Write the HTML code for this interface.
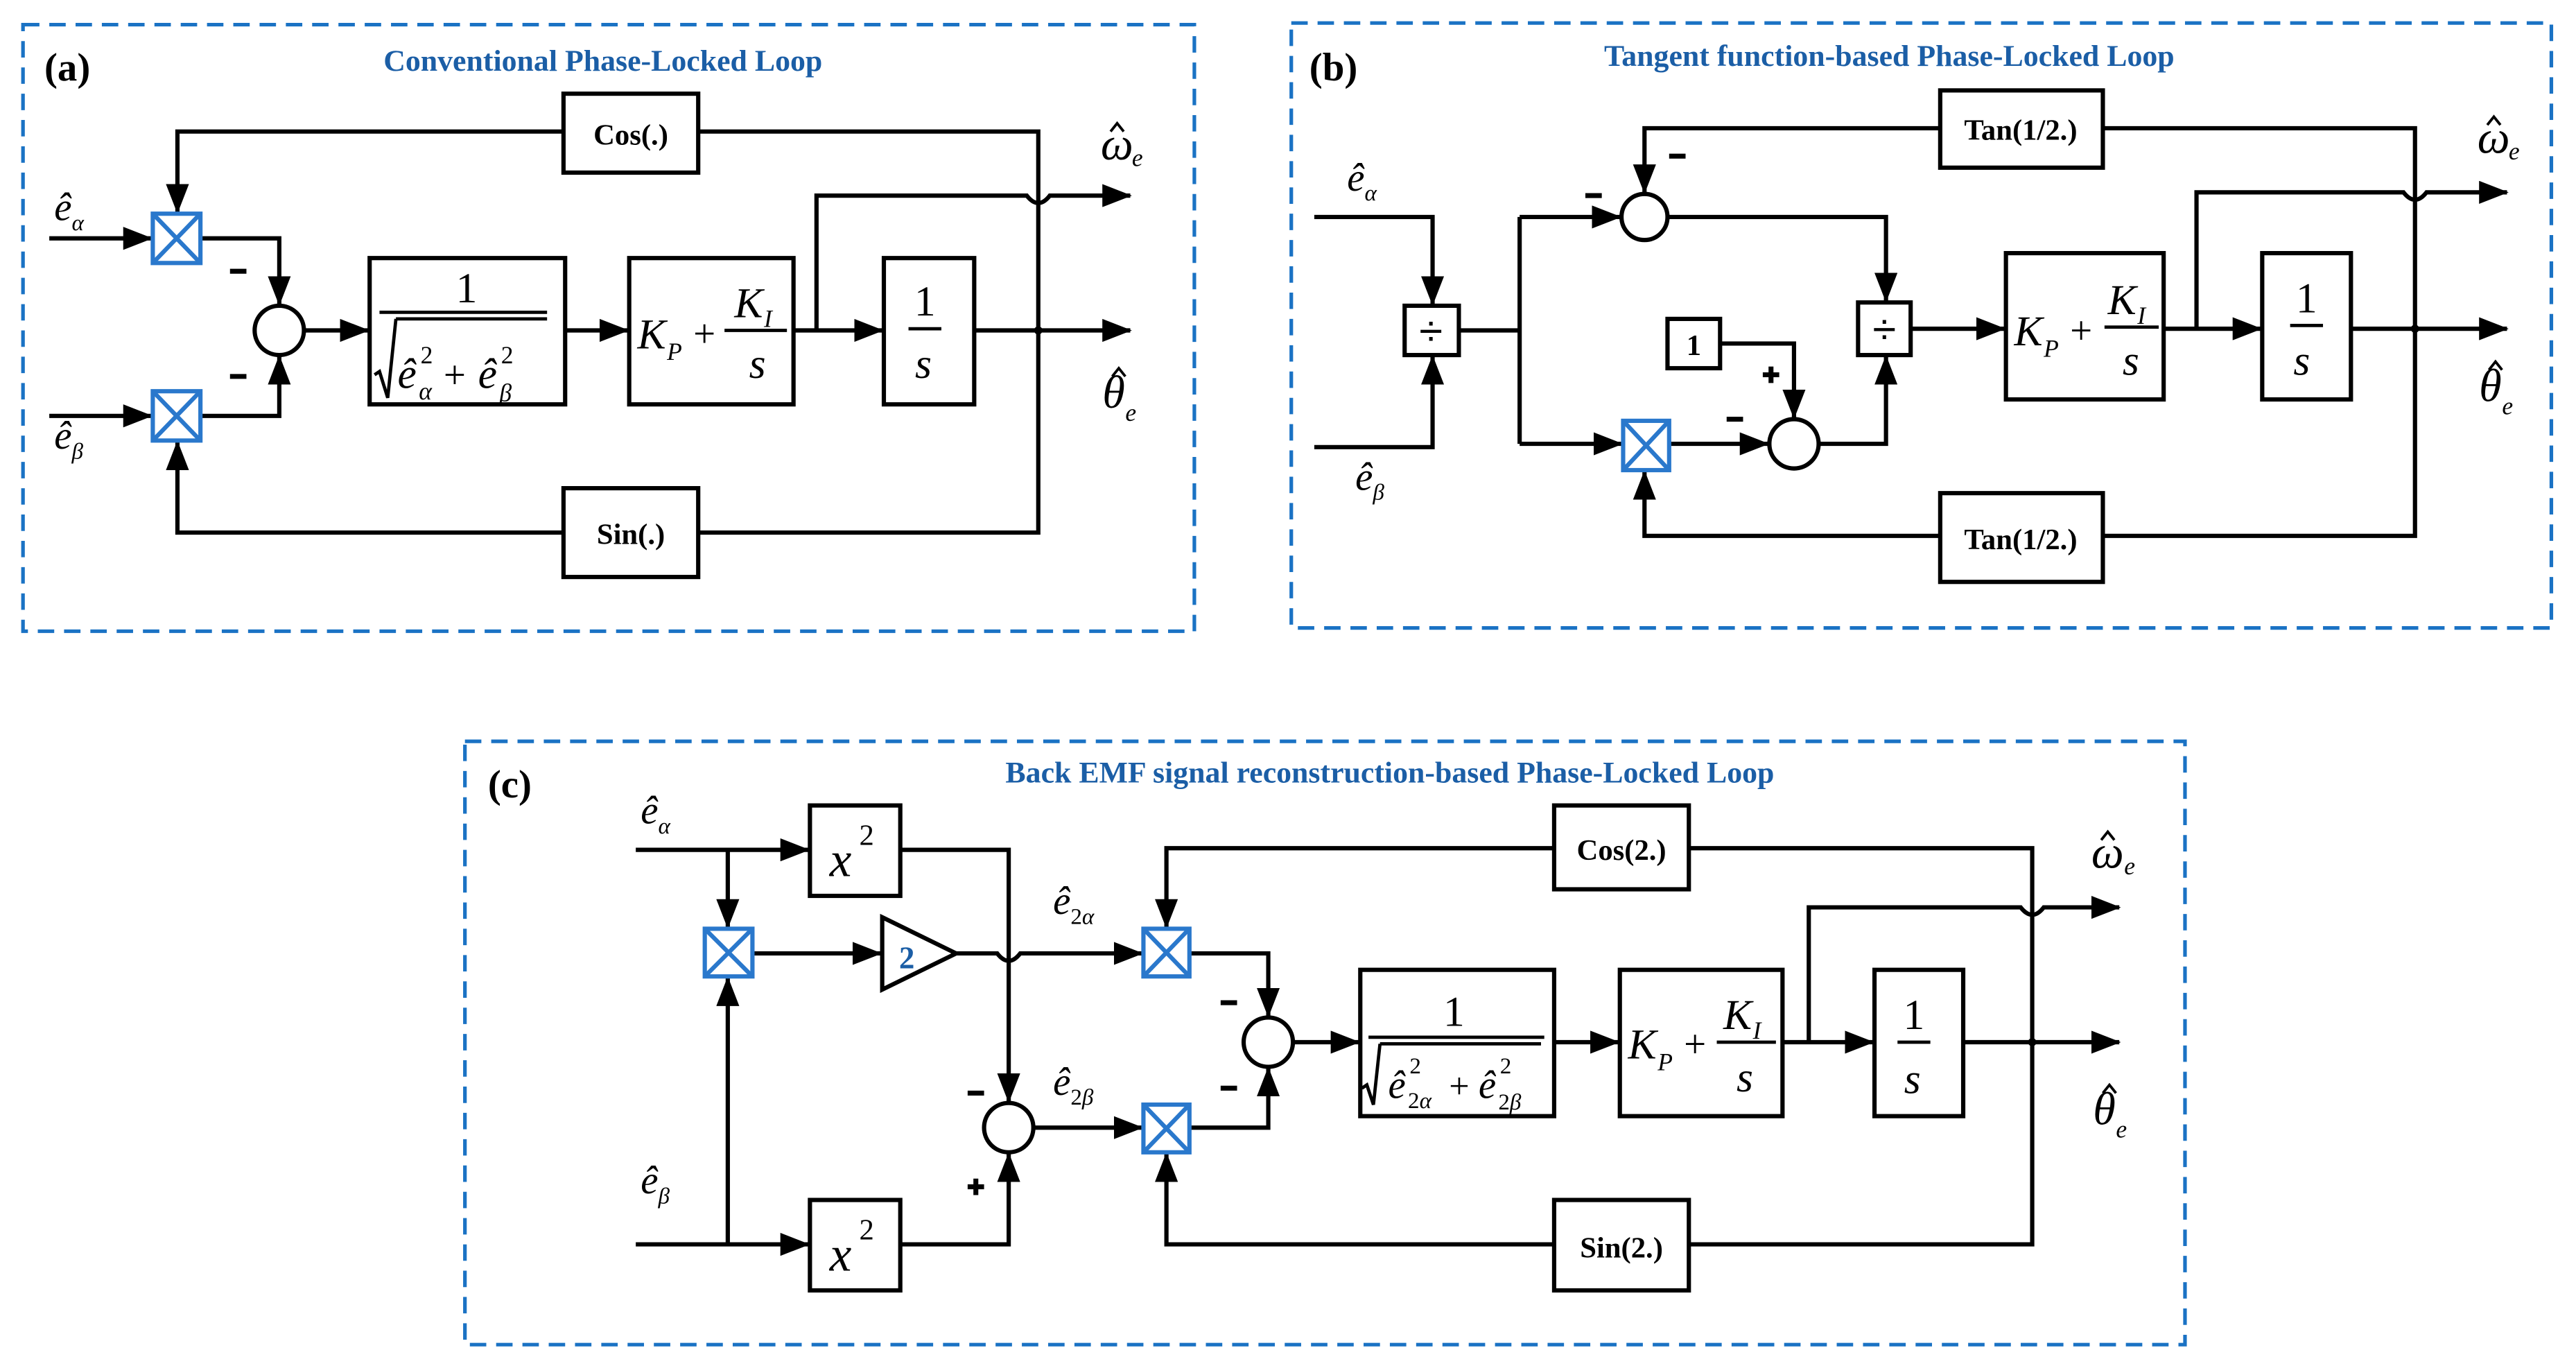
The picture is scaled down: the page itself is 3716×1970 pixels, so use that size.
<!DOCTYPE html>
<html><head><meta charset="utf-8"><style>
html,body{margin:0;padding:0;background:#fff;}
svg{display:block;}
.t{font-family:"Liberation Serif",serif;}
.bl{font-family:"Liberation Serif",serif;font-weight:bold;fill:#1b5ea6;font-size:18.5px;}
.lbl{font-family:"Liberation Serif",serif;font-weight:bold;font-size:18px;}
.m{font-family:"Liberation Serif",serif;font-style:italic;}
.pan{font-family:"Liberation Serif",serif;font-weight:bold;font-size:24px;}
</style></head><body>
<svg width="3716" height="1970" viewBox="0 0 1568 831" preserveAspectRatio="none" xmlns="http://www.w3.org/2000/svg">
<defs>
<marker id="a" markerUnits="userSpaceOnUse" markerWidth="18" markerHeight="14" refX="17" refY="7" orient="auto"><path d="M0,0 L18,7 L0,14 z" fill="#000"/></marker>
</defs>
<g fill="none" stroke="#1a72c4" stroke-width="2.2" stroke-dasharray="10,6">
<rect x="14" y="15" width="713" height="369"/>
<rect x="786" y="14" width="767" height="368"/>
<rect x="283" y="451" width="1047" height="367"/>
</g>
<text class="pan" x="27" y="49">(a)</text>
<text class="pan" x="797" y="49">(b)</text>
<text class="pan" x="297" y="485">(c)</text>
<text class="bl" x="367" y="43" text-anchor="middle">Conventional Phase-Locked Loop</text>
<text class="bl" x="1150" y="40" text-anchor="middle">Tangent function-based Phase-Locked Loop</text>
<text class="bl" x="846" y="476" text-anchor="middle">Back EMF signal reconstruction-based Phase-Locked Loop</text>

<g stroke="#000" stroke-width="2.6" fill="none">
<!-- panel a -->
<rect x="343" y="57" width="82" height="48"/>
<rect x="343" y="297" width="82" height="54"/>
<rect x="225" y="157" width="119" height="89"/>
<rect x="383" y="157" width="100" height="89"/>
<rect x="538" y="157" width="55" height="89"/>
<circle cx="170" cy="201" r="15"/>
<path d="M343,80 H108 V129" marker-end="url(#a)"/>
<path d="M425,80 H632 V324 H425"/>
<path d="M343,324 H108 V269" marker-end="url(#a)"/>
<path d="M30,145 H92" marker-end="url(#a)"/>
<path d="M30,253 H92" marker-end="url(#a)"/>
<path d="M123,145 H170 V185" marker-end="url(#a)"/>
<path d="M123,253 H170 V217" marker-end="url(#a)"/>
<path d="M185,201 H224" marker-end="url(#a)"/>
<path d="M344,201 H382" marker-end="url(#a)"/>
<path d="M483,201 H537" marker-end="url(#a)"/>
<path d="M497,201 V119 H625 Q632,128 639,119 H688" marker-end="url(#a)"/>
<path d="M593,201 H688" marker-end="url(#a)"/>
<!-- panel b -->
<rect x="1181" y="55" width="99" height="47"/>
<rect x="1181" y="300" width="99" height="54"/>
<rect x="855" y="186" width="33" height="30"/>
<rect x="1131" y="184" width="32" height="32"/>
<rect x="1015" y="194" width="32" height="30"/>
<rect x="1221" y="154" width="96" height="89"/>
<rect x="1377" y="154" width="54" height="89"/>
<circle cx="1001" cy="132" r="14"/>
<circle cx="1092" cy="270" r="15"/>
<path d="M800,132 H872 V185" marker-end="url(#a)"/>
<path d="M800,272 H872 V217" marker-end="url(#a)"/>
<path d="M888,201 H925 M925,132 V270"/>
<path d="M925,132 H986" marker-end="url(#a)"/>
<path d="M925,270 H987" marker-end="url(#a)"/>
<path d="M1181,78 H1001 V117" marker-end="url(#a)"/>
<path d="M1280,78 H1470 V326 H1280"/>
<path d="M1181,326 H1001 V287" marker-end="url(#a)"/>
<path d="M1015,132 H1148 V183" marker-end="url(#a)"/>
<path d="M1017,270 H1076" marker-end="url(#a)"/>
<path d="M1047,209 H1092 V254" marker-end="url(#a)"/>
<path d="M1107,270 H1148 V217" marker-end="url(#a)"/>
<path d="M1163,200 H1220" marker-end="url(#a)"/>
<path d="M1317,200 H1376" marker-end="url(#a)"/>
<path d="M1337,200 V117 H1463 Q1470,126 1477,117 H1526" marker-end="url(#a)"/>
<path d="M1431,200 H1526" marker-end="url(#a)"/>
<!-- panel c -->
<rect x="493" y="490" width="55" height="55"/>
<rect x="493" y="730" width="55" height="55"/>
<rect x="946" y="490" width="82" height="51"/>
<rect x="946" y="730" width="82" height="55"/>
<rect x="828" y="590" width="118" height="89"/>
<rect x="986" y="590" width="99" height="89"/>
<rect x="1141" y="590" width="54" height="89"/>
<circle cx="614" cy="686" r="15"/>
<circle cx="772" cy="634" r="15"/>
<path d="M537,558 L582,580 L537,602 z"/>
<path d="M387,517 H492" marker-end="url(#a)"/>
<path d="M387,757 H492" marker-end="url(#a)"/>
<path d="M443,517 V564" marker-end="url(#a)"/>
<path d="M443,757 V595" marker-end="url(#a)"/>
<path d="M548,517 H614 V670" marker-end="url(#a)"/>
<path d="M548,757 H614 V702" marker-end="url(#a)"/>
<path d="M458,580 H536" marker-end="url(#a)"/>
<path d="M582,580 H607 Q614,589 621,580 H695" marker-end="url(#a)"/>
<path d="M629,686 H695" marker-end="url(#a)"/>
<path d="M724,580 H772 V618" marker-end="url(#a)"/>
<path d="M724,686 H772 V650" marker-end="url(#a)"/>
<path d="M946,516 H710 V564" marker-end="url(#a)"/>
<path d="M946,757 H710 V702" marker-end="url(#a)"/>
<path d="M1028,516 H1237 V757 H1028"/>
<path d="M787,634 H827" marker-end="url(#a)"/>
<path d="M946,634 H985" marker-end="url(#a)"/>
<path d="M1085,634 H1140" marker-end="url(#a)"/>
<path d="M1101,634 V552 H1230 Q1237,561 1244,552 H1290" marker-end="url(#a)"/>
<path d="M1195,634 H1290" marker-end="url(#a)"/>
</g>

<!-- multipliers -->
<g stroke="#2a78cc" stroke-width="2.6" fill="#fff">
<rect x="93" y="130" width="29" height="30"/><path d="M93,130 L122,160 M122,130 L93,160"/>
<rect x="93" y="238" width="29" height="30"/><path d="M93,238 L122,268 M122,238 L93,268"/>
<rect x="988" y="256" width="28" height="30"/><path d="M988,256 L1016,286 M1016,256 L988,286"/>
<rect x="429" y="565" width="29" height="29"/><path d="M429,565 L458,594 M458,565 L429,594"/>
<rect x="696" y="565" width="28" height="29"/><path d="M696,565 L724,594 M724,565 L696,594"/>
<rect x="696" y="672" width="28" height="29"/><path d="M696,672 L724,701 M724,672 L696,701"/>
</g>

<g fill="#000"><circle cx="632" cy="201" r="2.5"/><circle cx="1470" cy="200" r="2.5"/><circle cx="1237" cy="634" r="2.5"/></g>

<g class="lbl" text-anchor="middle">
<text x="384" y="88">Cos(.)</text>
<text x="384" y="331">Sin(.)</text>
<text x="1230" y="85">Tan(1/2.)</text>
<text x="1230" y="334">Tan(1/2.)</text>
<text x="987" y="523">Cos(2.)</text>
<text x="987" y="765">Sin(2.)</text>
<text x="1031" y="216">1</text>
</g>
<text x="552" y="589" font-family="Liberation Serif,serif" font-weight="bold" font-size="19" fill="#1b5ea6" text-anchor="middle">2</text>
<g font-family="Liberation Sans,sans-serif" font-size="26" text-anchor="middle"><text x="871" y="210">÷</text><text x="1147" y="209">÷</text></g>

<g stroke="#000" stroke-width="3">
<path d="M140,165 H150 M140,229 H150"/>
<path d="M965,119 H975 M1016,95 H1026 M1051,255 H1061 M1073,228 H1083 M1078,223 V233"/>
<path d="M589,665 H599 M743,610 H753 M743,662 H753 M589,722 H599 M594,717 V727"/>
</g>

<!-- math in blocks -->
<g class="t" font-size="26" text-anchor="middle">
<text x="284" y="184">1</text><text x="563" y="192">1</text>
<text x="1404" y="190">1</text><text x="885" y="624">1</text><text x="1165" y="626">1</text>
</g>
<g stroke="#000" stroke-width="2" fill="none">
<path d="M231,190 H333 M241,194 H333 M241,194 L236,242 L231,226 L228,228"/>
<path d="M553,200 H573"/><path d="M1394,198 H1414"/><path d="M1155,634 H1175"/>
<path d="M833,631 H940 M840,635 H938 M840,635 L836,672 L832,660 L829,662"/>
<path d="M441,201 H479"/><path d="M1281,199 H1314"/><path d="M1045,634 H1081"/>
</g>
<g class="m">
<!-- sqrt a -->
<text x="242" y="236" font-size="26">ê</text>
<text x="256" y="221" font-size="15" font-style="normal">2</text>
<text x="255" y="243" font-size="15">α</text>
<text x="270" y="236" font-size="24" font-style="normal">+</text>
<text x="291" y="236" font-size="26">ê</text>
<text x="305" y="221" font-size="15" font-style="normal">2</text>
<text x="304" y="244" font-size="15">β</text>
<!-- sqrt c -->
<text x="845" y="668" font-size="24">ê</text>
<text x="858" y="653" font-size="14" font-style="normal">2</text>
<text x="857" y="674" font-size="14"><tspan font-style="normal">2</tspan>α</text>
<text x="882" y="668" font-size="22" font-style="normal">+</text>
<text x="900" y="668" font-size="24">ê</text>
<text x="913" y="653" font-size="14" font-style="normal">2</text>
<text x="912" y="675" font-size="14"><tspan font-style="normal">2</tspan>β</text>
<!-- PI a -->
<text x="388" y="212" font-size="26">K</text><text x="406" y="219" font-size="15">P</text>
<text x="422" y="211" font-size="24" font-style="normal">+</text>
<text x="447" y="193" font-size="26">K</text><text x="465" y="199" font-size="15">I</text>
<text x="456" y="230" font-size="26">s</text>
<text x="557" y="230" font-size="26">s</text>
<!-- PI b -->
<text x="1226" y="210" font-size="26">K</text><text x="1244" y="217" font-size="15">P</text>
<text x="1260" y="209" font-size="24" font-style="normal">+</text>
<text x="1283" y="191" font-size="26">K</text><text x="1301" y="197" font-size="15">I</text>
<text x="1292" y="228" font-size="26">s</text>
<text x="1396" y="228" font-size="26">s</text>
<!-- PI c -->
<text x="991" y="644" font-size="26">K</text><text x="1009" y="651" font-size="15">P</text>
<text x="1025" y="643" font-size="24" font-style="normal">+</text>
<text x="1049" y="626" font-size="26">K</text><text x="1067" y="632" font-size="15">I</text>
<text x="1057" y="664" font-size="26">s</text>
<text x="1159" y="665" font-size="26">s</text>
<!-- x^2 -->
<text x="505" y="533" font-size="30">x</text><text x="523" y="514" font-size="18" font-style="normal">2</text>
<text x="505" y="773" font-size="30">x</text><text x="523" y="754" font-size="18" font-style="normal">2</text>
</g>

<!-- signal labels -->
<g class="m" font-size="24">
<text x="33" y="134">ê<tspan font-size="14" dy="6">α</tspan></text>
<text x="33" y="273">ê<tspan font-size="14" dy="6">β</tspan></text>
<text x="820" y="116">ê<tspan font-size="14" dy="6">α</tspan></text>
<text x="825" y="298">ê<tspan font-size="14" dy="6">β</tspan></text>
<text x="390" y="501">ê<tspan font-size="14" dy="6">α</tspan></text>
<text x="390" y="726">ê<tspan font-size="14" dy="6">β</tspan></text>
<text x="641" y="556">ê<tspan font-size="14" font-style="normal" dy="6">2</tspan><tspan font-size="14">α</tspan></text>
<text x="641" y="666">ê<tspan font-size="14" font-style="normal" dy="6">2</tspan><tspan font-size="14">β</tspan></text>
</g>
<g class="m">
<text x="670" y="97" font-size="28">ω</text><text x="689" y="101" font-size="15">e</text>
<text x="671" y="248" font-size="28">θ</text><text x="685" y="256" font-size="15">e</text>
<text x="1508" y="93" font-size="28">ω</text><text x="1527" y="97" font-size="15">e</text>
<text x="1509" y="244" font-size="28">θ</text><text x="1523" y="252" font-size="15">e</text>
<text x="1273" y="528" font-size="28">ω</text><text x="1293" y="532" font-size="15">e</text>
<text x="1274" y="684" font-size="28">θ</text><text x="1288" y="692" font-size="15">e</text>
</g>
<g stroke="#000" stroke-width="1.6" fill="none">
<path d="M676,80 L680,75 L684,80"/><path d="M677,229 L681,224 L685,229"/>
<path d="M1514,76 L1518,71 L1522,76"/><path d="M1515,225 L1519,220 L1523,225"/>
<path d="M1279,511 L1283,506 L1287,511"/><path d="M1280,665 L1284,660 L1288,665"/>
</g>
</svg>
</body></html>
